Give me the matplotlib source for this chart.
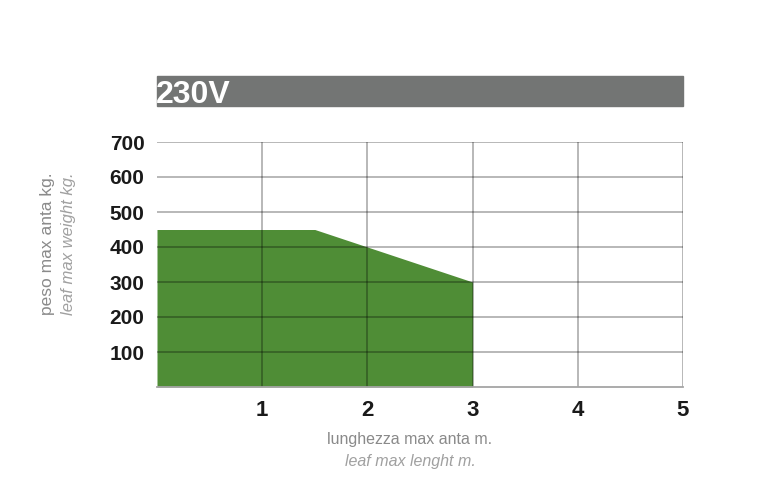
import matplotlib.pyplot as plt
from matplotlib.patches import Rectangle

# envelope of max leaf weight vs leaf length (230V)
lengths = [0, 1.5, 2, 3, 3]
weights = [450, 450, 400, 300, 0]
x_ticks = [1, 2, 3, 4, 5]
y_ticks = [100, 200, 300, 400, 500, 600, 700]

plt.rcParams['font.family'] = ['Liberation Sans', 'DejaVu Sans']

fig = plt.figure(figsize=(7.71, 4.94), dpi=100)
ax = fig.add_axes([157 / 771, 1 - 387 / 494, 526 / 771, 245 / 494])

ax.fill_between([0] + lengths, [0] + weights, 0, color='#4f8d36', linewidth=0, zorder=1)

for x in x_ticks:
    ax.axvline(x, color='black', alpha=0.3, linewidth=1.3, zorder=2)
for y in y_ticks:
    ax.axhline(y, color='black', alpha=0.3, linewidth=1.3, zorder=2)

ax.set_xlim(0, 5)
ax.set_ylim(0, 700)
ax.set_xticks(x_ticks)
ax.set_yticks(y_ticks)
ax.tick_params(length=0)
ax.tick_params(axis='x', pad=9, labelsize=16)
ax.tick_params(axis='y', pad=9, labelsize=15)
for lbl in ax.get_xticklabels() + ax.get_yticklabels():
    lbl.set_fontweight('bold')
    lbl.set_color('#1a1a1a')
for side in ['top', 'right', 'left']:
    ax.spines[side].set_visible(False)
ax.spines['bottom'].set_color('#a5a5a5')
ax.spines['bottom'].set_linewidth(1.3)

# banner
fig.patches.append(Rectangle((157 / 771, 1 - 106 / 494), 526 / 771, 30 / 494,
                             transform=fig.transFigure, color='#737574', zorder=0))
fig.text(156 / 771, 1 - 103 / 494, '230V', color='white', fontsize=23,
         fontweight='bold', ha='left', va='baseline')

# axis labels
fig.text(48 / 771, 1 - 244 / 494, 'peso max anta kg.', rotation=90, color='#8a8a8a',
         fontsize=12.5, ha='center', va='center')
fig.text(69 / 771, 1 - 244 / 494, 'leaf max weight kg.', rotation=90, color='#a0a0a0',
         fontsize=12, style='italic', ha='center', va='center')
fig.text(410 / 771, 1 - 439 / 494, 'lunghezza max anta m.', color='#8a8a8a',
         fontsize=11.5, ha='center', va='center')
fig.text(410 / 771, 1 - 461 / 494, 'leaf max lenght m.', color='#a0a0a0',
         fontsize=11.5, style='italic', ha='center', va='center')

plt.savefig('out.png', dpi=100)
